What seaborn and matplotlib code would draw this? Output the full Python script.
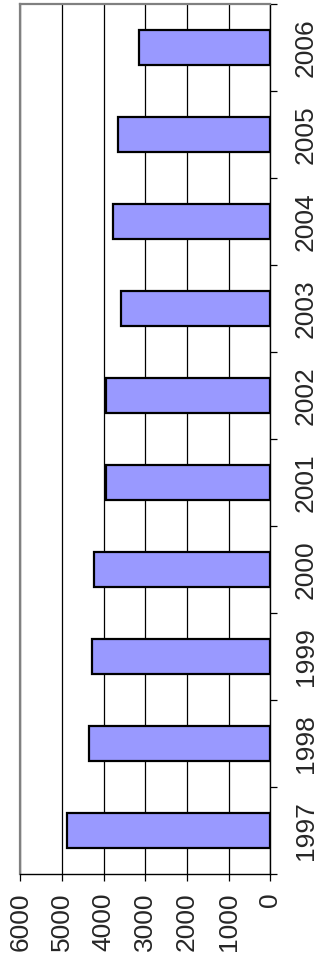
import matplotlib
matplotlib.use("Agg")
import matplotlib.pyplot as plt
import seaborn as sns
import pandas as pd
import numpy as np

years = ["1997", "1998", "1999", "2000", "2001", "2002", "2003", "2004", "2005", "2006"]
values = [4890, 4350, 4270, 4230, 3950, 3950, 3590, 3780, 3660, 3150]
value_ticks = [0, 1000, 2000, 3000, 4000, 5000, 6000]

sns.set_theme(style="white")
plt.rcParams["font.family"] = ["Liberation Sans", "DejaVu Sans"]

df = pd.DataFrame({"year": years, "value": values})
order = years[::-1]  # newest at the top

fig = plt.figure(figsize=(3.22, 9.59), dpi=100)
ax = fig.add_axes([20.3 / 322, 1 - 874 / 959, (270.5 - 20.3) / 322, (874 - 4.3) / 959])

sns.barplot(data=df, x="value", y="year", order=order, orient="h",
            color="#9999FF", edgecolor="black", linewidth=1.6,
            width=0.4, saturation=1, ax=ax)

ax.set_xlim(6000, 0)
ax.set_ylim(len(years) - 0.5, -0.5)
ax.set_xticks(value_ticks)
ax.set_xticklabels([str(v) for v in value_ticks], rotation=90, fontsize=19)
ax.xaxis.grid(True, color="black", linewidth=0.9)
ax.set_axisbelow(True)
ax.tick_params(axis="x", direction="out", length=5, width=0.9, color="black",
               pad=8, bottom=True)

# category labels on the right, ticks between categories
ax.yaxis.tick_right()
ax.set_yticks(range(len(order)))
ax.set_yticklabels(order, rotation=90, va="center", fontsize=19)
ax.set_yticks(np.arange(-0.5, len(order), 1.0), minor=True)
ax.tick_params(axis="y", which="major", length=0, pad=17, right=True, left=False)
ax.tick_params(axis="y", which="minor", direction="out", length=5, width=0.9,
               color="black", right=True, left=False)

ax.set_xlabel("")
ax.set_ylabel("")

for side in ("left", "top"):
    ax.spines[side].set_color("#808080")
    ax.spines[side].set_linewidth(1.6)
for side in ("right", "bottom"):
    ax.spines[side].set_color("black")
    ax.spines[side].set_linewidth(1.0)

fig.savefig("out.png", dpi=100)
